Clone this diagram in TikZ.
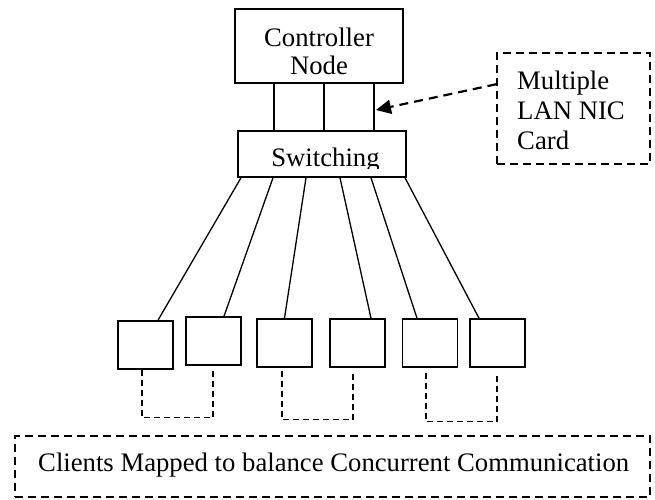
\documentclass[tikz,border=0pt]{standalone}
\usepackage{fontspec}
\setmainfont{Liberation Serif}
\usetikzlibrary{arrows.meta}

\begin{document}
\begin{tikzpicture}[x=1bp, y=1bp,
  font=\fontsize{26.7bp}{30bp}\selectfont,
  box/.style={draw, line width=1.6bp, inner sep=0pt},
  dbox/.style={draw, line width=1.5bp, dash pattern=on 8bp off 5bp, inner sep=0pt},
  pairlink/.style={line width=1.3bp, dash pattern=on 6bp off 4bp},
  txt/.style={inner sep=0pt}]
\useasboundingbox (0,0) rectangle (655,500);

\node[box, minimum width=168bp, minimum height=74bp] (ctrl) at (319,454) {};
\node[txt, align=center, anchor=north] (ctrltxt) at (319,472) {Controller\\[-2bp]Node};
\node[box, minimum width=168bp, minimum height=46bp] (sw) at (322,346) {};
\begin{scope}
\clip (sw.north west) rectangle ([yshift=9.5bp]sw.south east);
\node[txt, anchor=base] (swtxt) at (325.5,333) {Switching};
\end{scope}
\node[dbox, minimum width=153bp, minimum height=111bp] (nic) at (573.5,391.5) {};
\node[txt, align=left, anchor=north west] (nictxt) at (517,429) {Multiple\\LAN NIC\\Card};
\coordinate (nicend) at (376,390);

\foreach \i/\x/\y in {1/145.5/155, 2/213.5/159, 3/284.5/157, 4/357.5/157, 5/430/157, 6/497.5/157}
  \node[box, minimum width=55bp, minimum height=48bp] (c\i) at (\x,\y) {};

% NIC links
\foreach \dx/\w in {-45/1.6bp, 5/2.6bp, 55/1.6bp}
  \draw[line width=\w] ([xshift=\dx bp]ctrl.south) -- ([xshift=\dx bp]ctrl.south |- sw.north);
\draw[-{Triangle[length=15bp,width=14bp]}, line width=2.2bp, dash pattern=on 9bp off 6bp]
  ([yshift=-32bp]nic.north west) -- (nicend);

% clients
\foreach \i/\s/\e in {1/-81/12.5, 2/-49/10.5, 3/-16/0, 4/18/13.5, 5/49/-13, 6/83/-18.5}
  \draw[line width=1.3bp] ([xshift=\s bp]sw.south) -- ([xshift=\e bp]c\i.north);

\draw[pairlink] ([xshift=-3.5bp]c1.south) -- ++(0,-48) -| ([xshift=-0.5bp,yshift=-4bp]c2.south);
\draw[pairlink] ([xshift=-2.5bp,yshift=-3bp]c3.south) -- ++(0,-49) -| ([xshift=-4.5bp,yshift=-3bp]c4.south);
\draw[pairlink] ([xshift=-4bp,yshift=-5bp]c5.south) -- ++(0,-49) -| ([xshift=-0.5bp,yshift=-5bp]c6.south);

\node[dbox, minimum width=635bp, minimum height=61bp] (note) at (332.5,33.5) {};
\node[txt, anchor=base west] (notetxt) at (38,28) {Clients Mapped to balance Concurrent Communication};
\end{tikzpicture}
\end{document}
